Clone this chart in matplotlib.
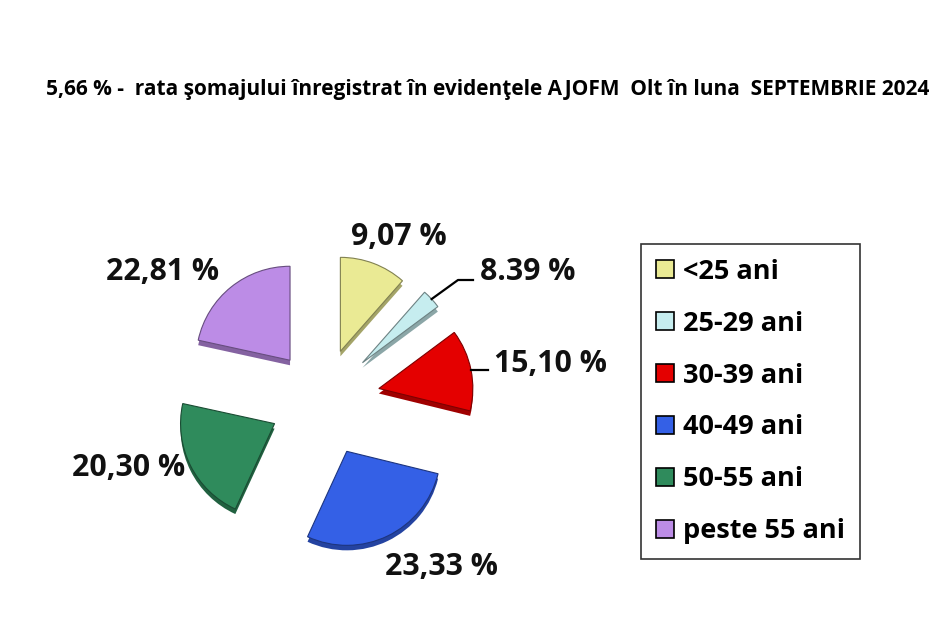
import numpy as np
import matplotlib
matplotlib.use("Agg")
import matplotlib.pyplot as plt
from matplotlib.patches import Patch
import matplotlib.colors as mcolors

# ---- data ----
categories = ["<25 ani", "25-29 ani", "30-39 ani", "40-49 ani", "50-55 ani", "peste 55 ani"]
label_texts = ["9,07 %", "8.39 %", "15,10 %", "23,33 %", "20,30 %", "22,81 %"]
# wedge shares as drawn in the picture (degrees-based estimates)
slice_shares = [11.4, 3.3, 13.9, 27.8, 21.4, 21.4]
colors = ["#EAEA94", "#C6EDEF", "#E40000", "#3460E6", "#2F8B5C", "#BC8CE6"]
explode_px = [52, 55, 58, 57, 53, 51]
title = "5,66 % -  rata şomajului înregistrat în evidenţele AJOFM  Olt în luna  SEPTEMBRIE 2024"

FONT = ["Open Sans", "DejaVu Sans"]
W, H = 949, 631
fig = plt.figure(figsize=(W / 100, H / 100), dpi=100)
ax = fig.add_axes([0, 0, 1, 1])

R = 94
cx, cy = 322, H - 400
depth = 5

def darker(c, f=0.6):
    r, g, b = mcolors.to_rgb(c)
    return (r * f, g * f, b * f)

# depth (3D side)
ax.pie(slice_shares, colors=[darker(c, 0.7) for c in colors], radius=R,
       center=(cx, cy - depth), explode=explode_px, startangle=90,
       counterclock=False, wedgeprops=dict(linewidth=0.8))
wedges, _ = ax.pie(slice_shares, colors=colors, radius=R, center=(cx, cy),
                   explode=explode_px, startangle=90, counterclock=False,
                   wedgeprops=dict(linewidth=0.8))
for w, c in zip(wedges, colors):
    w.set_edgecolor(darker(c, 0.55))
    w.set_zorder(3)

ax.set_xlim(0, W)
ax.set_ylim(0, H)
ax.set_aspect("equal")
ax.axis("off")

fs = 21.8
lab_pos = [(399, 237), (528, 272), (550, 364), (441, 567), (129, 468), (163, 272)]
for t, (x, y) in zip(label_texts, lab_pos):
    ax.text(x, H - y, t, fontsize=fs, fontweight="bold", ha="center", va="center",
            family=FONT, color="#111111")

# leader lines from wedge arcs
def arc_point(w, frac=0.5):
    th = np.deg2rad(w.theta1 + frac * (w.theta2 - w.theta1))
    return w.center[0] + w.r * np.cos(th), w.center[1] + w.r * np.sin(th)

x0, y0 = arc_point(wedges[1])
ax.plot([x0, 458, 473], [y0, H - 280, H - 280], color="black", lw=1.6, zorder=4)
x1, y1 = arc_point(wedges[2])
ax.plot([x1, 488], [y1, y1], color="black", lw=1.6, zorder=4)

fig.text(487.5 / W, 1 - 89 / H, title, fontsize=15.0, fontweight="bold",
         ha="center", va="center", family=FONT)

handles = [Patch(facecolor=c, edgecolor="black", linewidth=1.2) for c in colors]
leg = fig.legend(handles, categories, loc="upper left",
                 bbox_to_anchor=(641 / W, 1 - 244 / H), frameon=True, fancybox=False,
                 prop=dict(family=FONT, weight="bold", size=19.5),
                 labelspacing=0.955, handlelength=0.65, handleheight=0.65,
                 handletextpad=0.35, borderpad=0.55, borderaxespad=0)
leg.get_frame().set_edgecolor("black")
leg.get_frame().set_linewidth(1.2)

fig.savefig("out.png", dpi=100, facecolor="white")
